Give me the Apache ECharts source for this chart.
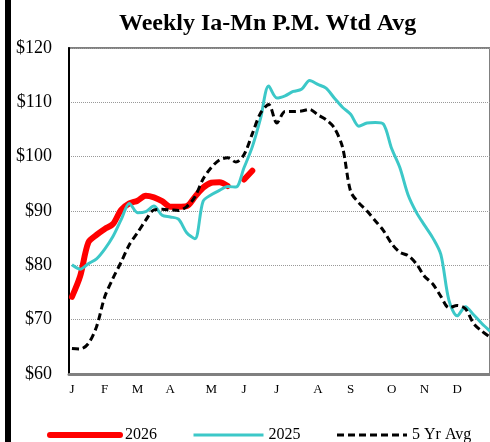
<!DOCTYPE html>
<html>
<head>
<meta charset="utf-8">
<script src="https://cdn.jsdelivr.net/npm/echarts@6/dist/echarts.min.js"></script>
<style>
  html, body { margin: 0; padding: 0; background: #fff; }
  #chart { width: 490px; height: 442px; }
</style>
</head>
<body>
<div id="chart"></div>
<script>
// weekly values, week 1..52
const weeks = Array.from({ length: 52 }, (_, i) => i + 1);

const monthLabels = ["J", "F", "M", "A", "M", "J", "J", "A", "S", "O", "N", "D"];
const monthWeeks = [1, 5, 9, 13, 18, 22, 26, 31, 35, 40, 44, 48];

const y2026 = [74.2, 78.0, 84.2, 85.6, 86.7, 87.6, 90.2, 91.4, 91.9, 92.8,
  92.5, 91.8, 90.8, 90.8, 90.9, 92.6, 94.3, 95.2, 95.3, 94.6,
  null, 95.8, 97.4];

const y2025 = [80.1, 79.3, 80.3, 81.2, 83.0, 85.3, 88.4, 91.4, 89.7, 89.9,
  90.9, 89.2, 88.9, 88.5, 86.0, 84.9, 91.8, 93.0, 93.8, 94.5,
  94.4, 98.0, 101.8, 107.0, 113.0, 110.8, 111.2, 112.0, 112.4, 114.0,
  113.3, 112.6, 110.8, 109.1, 107.8, 105.6, 106.2, 106.3, 106.0, 101.5,
  98.0, 93.0, 89.8, 87.4, 85.1, 82.0, 73.5, 70.7, 72.4, 70.9,
  69.3, 67.9];

const avg5 = [64.7, 64.6, 65.6, 68.7, 74.2, 77.6, 80.6, 83.8, 86.0, 88.3,
  90.2, 90.3, 90.2, 90.1, 90.8, 92.6, 95.9, 98.0, 99.4, 99.8,
  99.0, 100.4, 104.2, 108.0, 109.6, 106.2, 108.3, 108.3, 108.4, 108.7,
  107.7, 106.8, 105.3, 101.8, 93.6, 91.5, 90.0, 88.2, 86.4, 84.0,
  82.4, 81.8, 80.3, 78.0, 76.6, 74.3, 72.2, 72.6, 72.0, 69.3,
  67.9, 66.8];

const pairs = (vals) => vals.map((v, i) => [weeks[i], v]);

const FONT = "Liberation Serif";

const chart = echarts.init(document.getElementById("chart"), null, { renderer: "canvas" });

chart.setOption({
  animation: false,
  backgroundColor: "#fff",
  title: {
    text: "Weekly Ia-Mn P.M. Wtd Avg",
    left: 114,
    top: 7,
    textStyle: { fontFamily: FONT, fontWeight: "bold", fontSize: 24, color: "#000" }
  },
  graphic: [
    { type: "rect", shape: { x: 5, y: 0, width: 6, height: 442 }, style: { fill: "#000" } }
  ],
  legend: {
    left: 42,
    top: 422,
    itemWidth: 70,
    itemHeight: 14,
    itemGap: 35,
    itemStyle: { opacity: 0 },
    textStyle: { fontFamily: FONT, fontSize: 16, color: "#000" },
    data: [
      { name: "2026", lineStyle: { width: 6, cap: "round" } },
      { name: "2025", lineStyle: { width: 3 } },
      { name: "5 Yr Avg", lineStyle: { width: 3 } }
    ]
  },
  grid: {
    left: 69,
    right: -3,
    top: 48,
    bottom: 68,
    show: true,
    borderColor: "#808080",
    borderWidth: 2
  },
  xAxis: {
    type: "value",
    min: 0.64,
    max: 52,
    axisLine: { show: true, lineStyle: { color: "#808080", width: 3 } },
    axisTick: { show: false },
    splitLine: { show: false },
    axisLabel: {
      customValues: monthWeeks,
      margin: 9,
      fontFamily: FONT,
      fontSize: 13,
      color: "#000",
      formatter: (v) => monthLabels[monthWeeks.indexOf(v)] || ""
    }
  },
  yAxis: {
    type: "value",
    min: 60,
    max: 120,
    interval: 10,
    axisLine: { show: true, lineStyle: { color: "#000", width: 2 } },
    axisTick: { show: false },
    splitLine: { lineStyle: { color: "#999", type: "dotted", width: 1 } },
    axisLabel: {
      formatter: "${value}",
      margin: 17,
      fontFamily: FONT,
      fontSize: 18,
      color: "#000"
    }
  },
  series: [
    {
      name: "2026",
      type: "line",
      data: pairs(y2026),
      symbol: "none",
      smooth: 0.3,
      connectNulls: false,
      lineStyle: { color: "#ff0000", width: 6, cap: "round" },
      itemStyle: { color: "#ff0000" }
    },
    {
      name: "2025",
      type: "line",
      data: pairs(y2025),
      symbol: "none",
      smooth: 0.3,
      lineStyle: { color: "#3cc8c8", width: 3 },
      itemStyle: { color: "#3cc8c8" }
    },
    {
      name: "5 Yr Avg",
      type: "line",
      data: pairs(avg5),
      symbol: "none",
      smooth: 0.3,
      lineStyle: { color: "#000", width: 3, type: [7, 4] },
      itemStyle: { color: "#000" }
    }
  ]
});
</script>
</body>
</html>
